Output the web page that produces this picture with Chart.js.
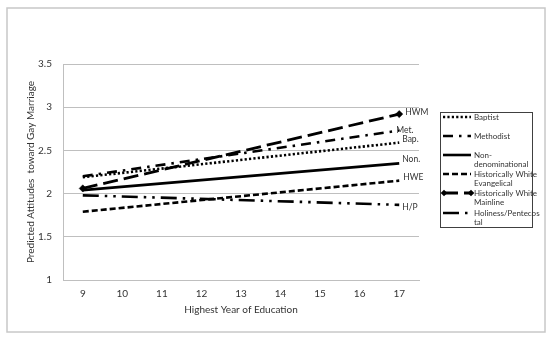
<!DOCTYPE html>
<html>
<head>
<meta charset="utf-8">
<script src="https://cdn.jsdelivr.net/npm/chart.js@4"></script>
<style>
  html, body { margin: 0; padding: 0; background: #fff; }
  #wrap { width: 550px; height: 337px; position: relative; }
</style>
</head>
<body>
<div id="wrap"><canvas id="myChart" width="550" height="337"></canvas></div>
<script>
// x axis: highest year of education
const years = ["9", "10", "11", "12", "13", "14", "15", "16", "17"];

// predicted values, only the end points are plotted
const baptist     = [2.19, null, null, null, null, null, null, null, 2.59];
const methodist   = [2.20, null, null, null, null, null, null, null, 2.73];
const nonDenom    = [2.04, null, null, null, null, null, null, null, 2.35];
const hwEvang     = [1.79, null, null, null, null, null, null, null, 2.15];
const hwMainline  = [2.06, null, null, null, null, null, null, null, 2.92];
const holiness    = [1.98, null, null, null, null, null, null, null, 1.87];

const seriesNames = [
  ["Baptist"],
  ["Methodist"],
  ["Non-", "denominational"],
  ["Historically White", "Evangelical"],
  ["Historically White", "Mainline"],
  ["Holiness/Pentecos", "tal"],
];
const endLabels = ["Bap.", "Met.", "Non.", "HWE", "HWM", "H/P"];
const yTicks = [1, 1.5, 2, 2.5, 3, 3.5];

const FONT = "Lato, 'Liberation Sans', sans-serif";
const TEXT = "#333";

function line(label, values, dash, extra) {
  return Object.assign({
    label: label.join(""),
    data: values,
    borderColor: "#000",
    backgroundColor: "#000",
    borderWidth: 2.6,
    borderDash: dash,
    borderCapStyle: "butt",
    pointRadius: 0,
    spanGaps: true,
    tension: 0,
  }, extra || {});
}

const data = {
  labels: years,
  datasets: [
    line(seriesNames[0], baptist, [2.2, 2.2]),
    line(seriesNames[1], methodist, [10, 6, 2.5, 6]),
    line(seriesNames[2], nonDenom, []),
    line(seriesNames[3], hwEvang, [6, 3]),
    line(seriesNames[4], hwMainline, [15, 6], {
      pointStyle: "rectRot",
      pointRadius: 3.6,
      pointBorderWidth: 0.5,
      borderWidth: 2.8,
    }),
    line(seriesNames[5], holiness, [16, 6, 2.5, 6, 2.5, 6]),
  ],
};

// offsets of the short labels at the right end of each line
const labelShift = [[3, -3], [-3, 0], [3, -4], [4, -3], [6, -2], [3, 2]];

const extras = {
  id: "extras",
  afterDraw(chart) {
    const ctx = chart.ctx;
    ctx.save();

    // outer frame
    ctx.strokeStyle = "#c8c8c8";
    ctx.lineWidth = 1.5;
    ctx.strokeRect(7, 8, 538, 324);

    // labels at line ends
    ctx.fillStyle = TEXT;
    ctx.font = "8.5px " + FONT;
    ctx.textBaseline = "middle";
    ctx.textAlign = "left";
    chart.data.datasets.forEach((ds, i) => {
      const pts = chart.getDatasetMeta(i).data;
      const p = pts[pts.length - 1];
      ctx.fillText(endLabels[i], p.x + labelShift[i][0], p.y + labelShift[i][1]);
    });

    // legend box
    const lx = 440, ly = 112, lw = 92, lh = 115;
    ctx.strokeStyle = "#404040";
    ctx.lineWidth = 1;
    ctx.strokeRect(lx + 0.5, ly + 0.5, lw, lh);

    const rowY = [117, 136, 155, 174, 193, 213];
    ctx.font = "8px " + FONT;
    chart.data.datasets.forEach((ds, i) => {
      const y = rowY[i];
      ctx.save();
      ctx.strokeStyle = "#000";
      ctx.lineWidth = ds.borderWidth;
      ctx.setLineDash(ds.borderDash);
      ctx.beginPath();
      ctx.moveTo(443, y);
      ctx.lineTo(471, y);
      ctx.stroke();
      ctx.restore();
      if (ds.pointStyle === "rectRot") {
        [444, 471].forEach((x) => {
          ctx.beginPath();
          ctx.moveTo(x, y - 3.3);
          ctx.lineTo(x + 3.3, y);
          ctx.lineTo(x, y + 3.3);
          ctx.lineTo(x - 3.3, y);
          ctx.closePath();
          ctx.fillStyle = "#000";
          ctx.fill();
        });
      }
      ctx.fillStyle = TEXT;
      seriesNames[i].forEach((t, k) => {
        ctx.fillText(t, 474, y + k * 9.3);
      });
    });

    ctx.restore();
  },
};

const config = {
  type: "line",
  data,
  options: {
    responsive: false,
    animation: false,
    layout: { padding: { left: 0, top: 64, right: 131, bottom: 0 } },
    plugins: {
      legend: { display: false },
      tooltip: { enabled: false },
    },
    scales: {
      x: {
        offset: true,
        grid: { display: false, drawTicks: false },
        border: { display: true, color: "#bfbfbf", width: 1 },
        ticks: { color: TEXT, font: { family: FONT, size: 10 }, padding: 8, maxRotation: 0 },
        title: {
          display: true,
          text: "Highest Year of Education",
          color: TEXT,
          font: { family: FONT, size: 10 },
          padding: { top: 0, bottom: 21 },
        },
        afterFit: (s) => { s.height = 57; },
      },
      y: {
        min: 1,
        max: 3.5,
        afterBuildTicks: (s) => { s.ticks = yTicks.map((v) => ({ value: v })); },
        grid: { color: "#bfbfbf", lineWidth: 1, drawTicks: false },
        border: { display: true, color: "#bfbfbf", width: 1 },
        ticks: {
          color: TEXT,
          font: { family: FONT, size: 10 },
          padding: 11,
          callback: (v) => String(v),
        },
        title: {
          display: true,
          text: "Predicted Attitudes  toward Gay Marriage",
          color: TEXT,
          font: { family: FONT, size: 10 },
          padding: { top: 25, bottom: 0 },
        },
        afterFit: (s) => { s.width = 63; },
      },
    },
  },
  plugins: [extras],
};

const myChart = new Chart(document.getElementById("myChart"), config);
</script>
</body>
</html>
